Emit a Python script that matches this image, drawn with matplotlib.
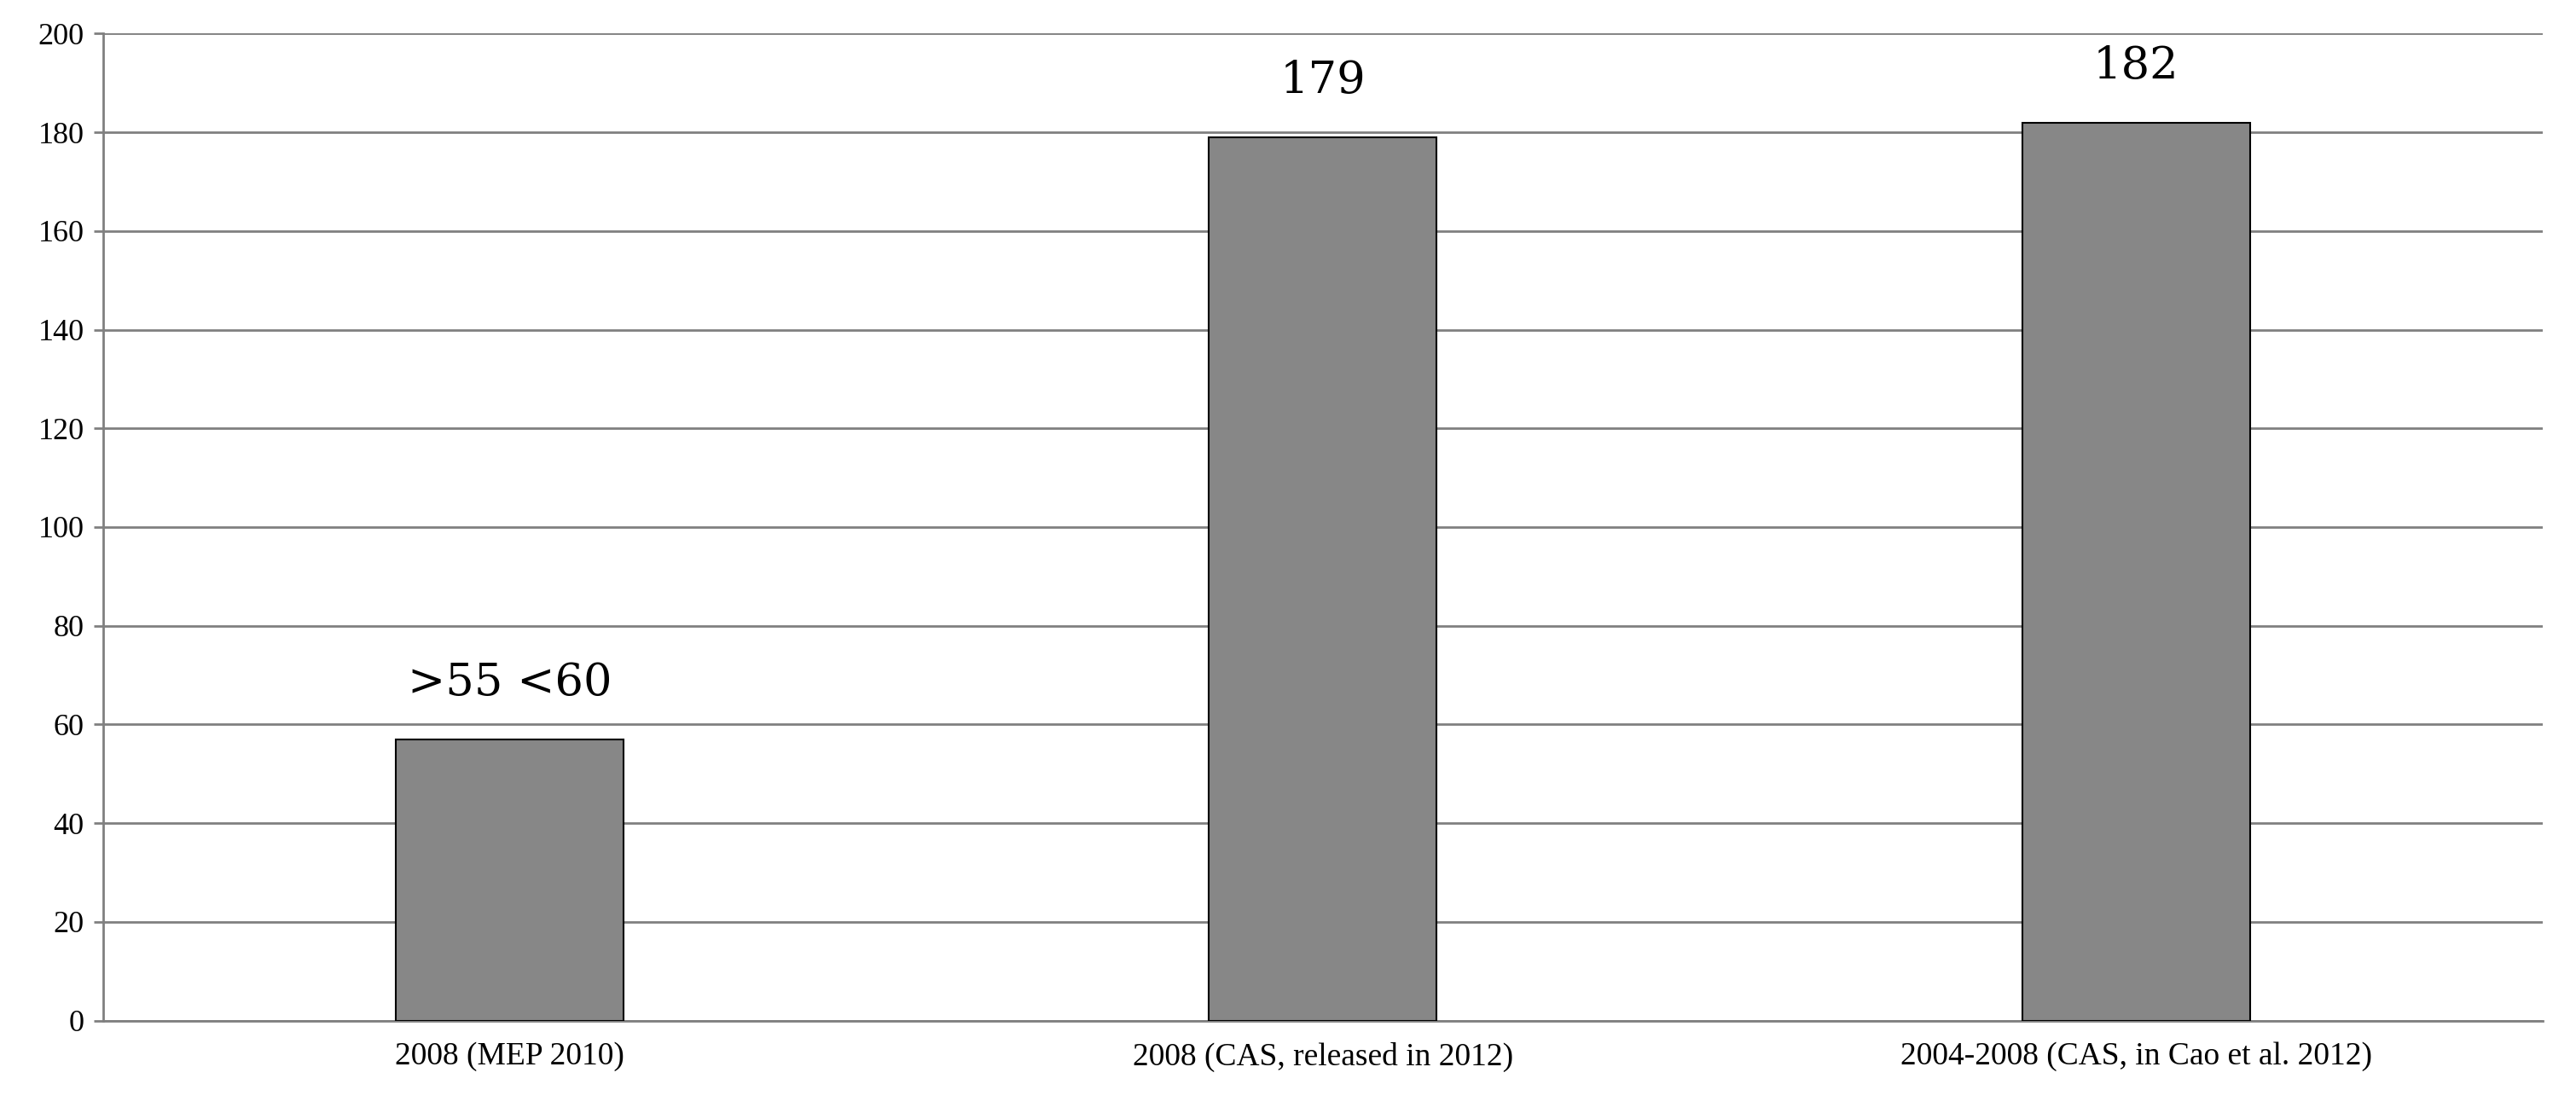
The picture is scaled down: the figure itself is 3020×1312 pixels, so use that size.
import matplotlib.pyplot as plt

categories = ["2008 (MEP 2010)", "2008 (CAS, released in 2012)", "2004-2008 (CAS, in Cao et al. 2012)"]
values = [57, 179, 182]
bar_labels = [">55 <60", "179", "182"]

fig = plt.figure(figsize=(30.2, 13.12), dpi=100)
ax = fig.add_axes([0.04, 0.088, 0.947, 0.882])

x = range(len(categories))
bars = ax.bar(x, values, width=0.28, color="#878787", edgecolor="black", linewidth=1.5, zorder=3)

ax.set_xlim(-0.5, 2.5)
ax.set_ylim(0, 200)
ax.set_yticks(range(0, 201, 20))
ax.yaxis.grid(True, color="#808080", linewidth=2, zorder=0)
ax.set_xticks(list(x))
ax.set_xticklabels(categories, fontfamily="Liberation Serif", fontsize=27)
for lbl in ax.get_yticklabels():
    lbl.set_fontfamily("Liberation Serif")
    lbl.set_fontsize(26)
ax.tick_params(axis="x", length=0, pad=18)
ax.tick_params(axis="y", length=8, width=2, color="#808080", pad=8)

for s in ["top", "right"]:
    ax.spines[s].set_visible(False)
for s in ["left", "bottom"]:
    ax.spines[s].set_color("#808080")
    ax.spines[s].set_linewidth(2)

for b, t in zip(bars, bar_labels):
    ax.text(b.get_x() + b.get_width() / 2, b.get_height() + 7, t,
            ha="center", va="bottom", fontsize=38, fontfamily="DejaVu Serif")

fig.savefig("out.png", dpi=100)
